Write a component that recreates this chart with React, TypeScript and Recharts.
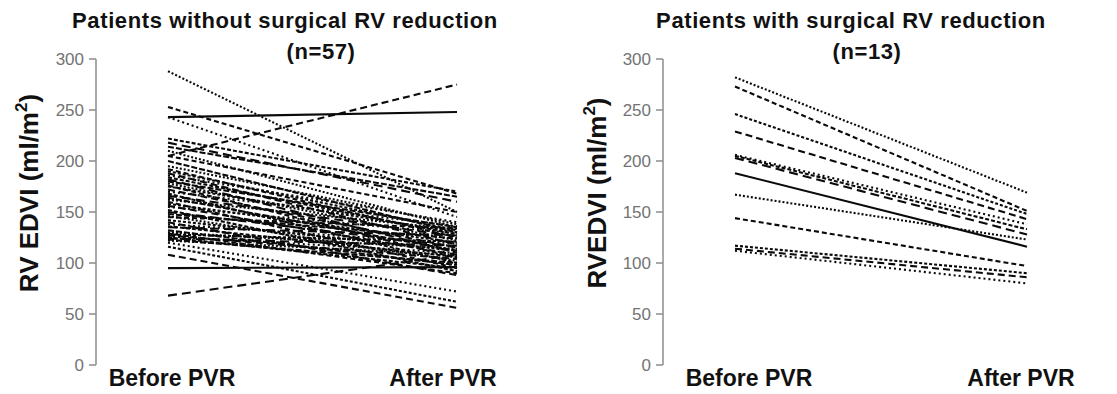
import React from 'react';
import { LineChart, Line, XAxis, YAxis } from 'recharts';

const categories = ['Before PVR', 'After PVR'];
const yTicks = [0, 50, 100, 150, 200, 250, 300];

// patients without surgical RV reduction (n=57)
const withoutBefore = [
  288, 253, 243, 205, 243, 222, 218, 214, 210, 205, 116, 108, 120, 95, 68, 200,
  195, 192, 190, 188, 186, 184, 182, 180, 178, 176, 175, 172, 170, 168, 166, 164,
  162, 160, 158, 156, 155, 152, 150, 148, 146, 145, 142, 140, 138, 136, 135, 132,
  130, 129, 128, 127, 126, 125, 124, 123, 122,
];
const withoutAfter = [
  150, 168, 248, 275, 145, 170, 160, 165, 135, 150, 62, 56, 72, 96, 108, 130,
  138, 125, 132, 118, 140, 128, 110, 135, 122, 105, 130, 115, 136, 100, 126, 112,
  133, 95, 120, 108, 129, 92, 116, 124, 102, 134, 112, 88, 119, 106, 127, 98,
  114, 90, 121, 104, 110, 95, 117, 100, 108,
];

// patients with surgical RV reduction (n=13)
const withBefore = [282, 273, 246, 229, 206, 205, 203, 188, 167, 144, 117, 114, 112];
const withAfter = [169, 151, 148, 143, 138, 133, 128, 116, 123, 97, 90, 86, 80];

const dashes = ['2 2', '5 3', '3 2', '7 4', '2 3', '4 2', '9 5', '6 2'];
const font = '"Liberation Sans", Arial, Helvetica, sans-serif';

function buildRows(before: number[], after: number[]) {
  return categories.map((name, i) => {
    const row: Record<string, string | number> = { name };
    const src = i === 0 ? before : after;
    src.forEach((v, k) => {
      row['p' + k] = v;
    });
    return row;
  });
}

// category tick with a small per-label horizontal nudge
const makeTick = (shift: number[]) => (props: any) => {
  const { x, y, payload, index } = props;
  return (
    <text
      x={x + (shift[index] || 0)}
      y={y}
      dy="0.71em"
      textAnchor="middle"
      fill="#111"
      fontSize={23}
      fontWeight="bold"
      fontFamily={font}
    >
      {payload.value}
    </text>
  );
};

interface PanelProps {
  before: number[];
  after: number[];
  width: number;
  left: number;
  right: number;
  shift: number[];
  solid: number[];
}

const Panel: React.FC<PanelProps> = ({ before, after, width, left, right, shift, solid }) => {
  const rows = buildRows(before, after);
  return (
    <LineChart width={width} height={394} data={rows} margin={{ top: 59, right, bottom: 0, left }}>
      <XAxis
        dataKey="name"
        type="category"
        interval={0}
        padding={{ left: 72, right: 43 }}
        axisLine={false}
        tickLine={false}
        tickSize={0}
        tickMargin={5}
        height={29}
        tick={makeTick(shift)}
      />
      <YAxis
        type="number"
        domain={[0, 300]}
        ticks={yTicks}
        interval={0}
        width={56}
        axisLine={{ stroke: '#8c8c8c', strokeWidth: 1.5 }}
        tickLine={{ stroke: '#8c8c8c', strokeWidth: 1.5 }}
        tickSize={7}
        tickMargin={5}
        tick={{ fill: '#737373', fontSize: 17, fontFamily: font }}
      />
      {before.map((_, k) => (
        <Line
          key={k}
          type="linear"
          dataKey={'p' + k}
          stroke="#0a0a0a"
          strokeWidth={2.1}
          strokeDasharray={solid.includes(k) ? undefined : dashes[k % dashes.length]}
          dot={false}
          activeDot={false}
          isAnimationActive={false}
        />
      ))}
    </LineChart>
  );
};

const YTitle: React.FC<{ x: number; y: number; text: string }> = ({ x, y, text }) => (
  <text
    transform={`translate(${x},${y}) rotate(-90)`}
    textAnchor="middle"
    fontSize={26}
    fontWeight="bold"
    fontFamily={font}
    fill="#111"
  >
    {text} (ml/m
    <tspan dy={-11} fontSize={17}>2</tspan>
    <tspan dy={11}>)</tspan>
  </text>
);

export default function App() {
  const titleStyle = { fontSize: 22, fontWeight: 'bold' as const, fontFamily: font, letterSpacing: 0.6 };
  return (
    <div style={{ position: 'relative', width: 1117, height: 394, background: '#fff' }}>
      <style>{'body{margin:0}'}</style>
      <div style={{ position: 'absolute', left: 0, top: 0 }}>
        <Panel
          before={withoutBefore}
          after={withoutAfter}
          width={560}
          left={40}
          right={60}
          shift={[4, -14]}
          solid={[2, 13]}
        />
      </div>
      <div style={{ position: 'absolute', left: 560, top: 0 }}>
        <Panel
          before={withBefore}
          after={withAfter}
          width={557}
          left={47}
          right={47}
          shift={[14, -6]}
          solid={[7]}
        />
      </div>
      <svg
        width={1117}
        height={394}
        style={{ position: 'absolute', left: 0, top: 0, pointerEvents: 'none' }}
      >
        <text x={285} y={28} textAnchor="middle" fill="#111" style={titleStyle}>
          Patients without surgical RV reduction
        </text>
        <text x={321} y={59} textAnchor="middle" fill="#111" style={titleStyle}>
          (n=57)
        </text>
        <text x={851} y={28} textAnchor="middle" fill="#111" style={titleStyle}>
          Patients with surgical RV reduction
        </text>
        <text x={867} y={59} textAnchor="middle" fill="#111" style={titleStyle}>
          (n=13)
        </text>
        <YTitle x={38} y={193} text="RV EDVI" />
        <YTitle x={606} y={193} text="RVEDVI" />
      </svg>
    </div>
  );
}
